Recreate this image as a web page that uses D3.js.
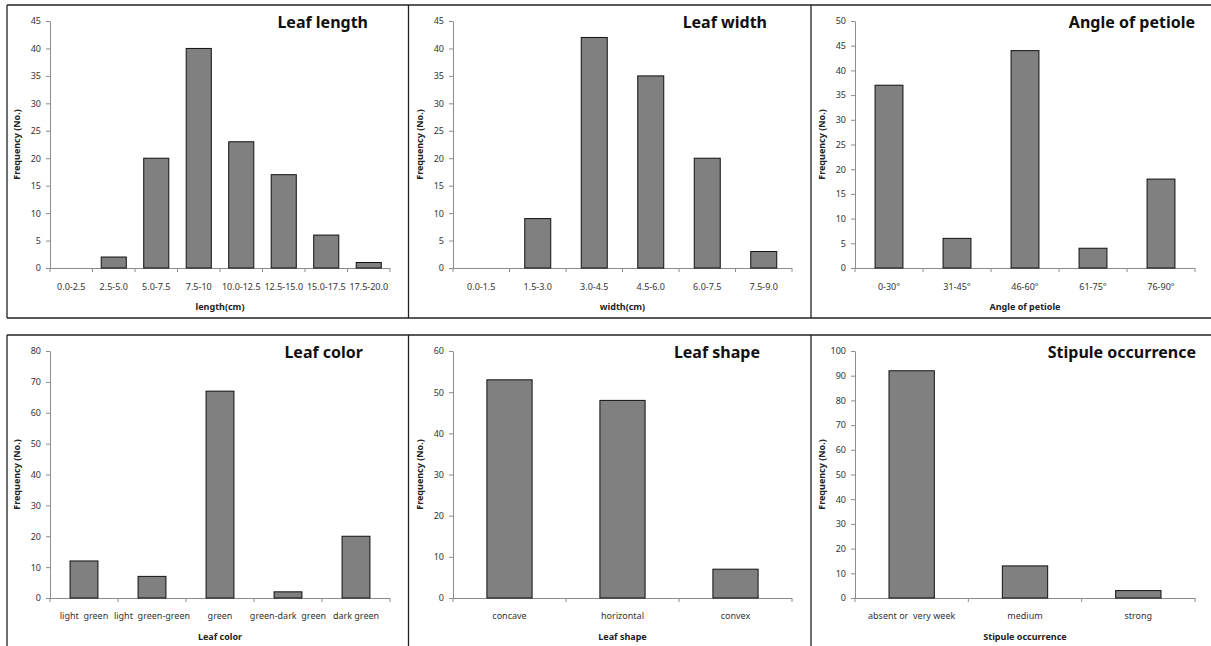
<!DOCTYPE html>
<html><head><meta charset="utf-8">
<script src="https://cdn.jsdelivr.net/npm/d3@7"></script>
<style>body{margin:0;background:#fff}svg{display:block}</style>
</head><body>
<svg id="c" width="1211" height="646"></svg>
<script>
// ---- data ----
const lengthCats = ["0.0-2.5","2.5-5.0","5.0-7.5","7.5-10","10.0-12.5","12.5-15.0","15.0-17.5","17.5-20.0"];
const lengthVals = [0, 2, 20, 40, 23, 17, 6, 1];
const lengthTicks = [0,5,10,15,20,25,30,35,40,45];

const widthCats = ["0.0-1.5","1.5-3.0","3.0-4.5","4.5-6.0","6.0-7.5","7.5-9.0"];
const widthVals = [0, 9, 42, 35, 20, 3];
const widthTicks = [0,5,10,15,20,25,30,35,40,45];

const angleCats = ["0-30°","31-45°","46-60°","61-75°","76-90°"];
const angleVals = [37, 6, 44, 4, 18];
const angleTicks = [0,5,10,15,20,25,30,35,40,45,50];

const colorCats = ["light  green","light  green-green","green","green-dark  green","dark green"];
const colorVals = [12, 7, 67, 2, 20];
const colorTicks = [0,10,20,30,40,50,60,70,80];

const shapeCats = ["concave","horizontal","convex"];
const shapeVals = [53, 48, 7];
const shapeTicks = [0,10,20,30,40,50,60];

const stipCats = ["absent or  very week","medium","strong"];
const stipVals = [92, 13, 3];
const stipTicks = [0,10,20,30,40,50,60,70,80,90,100];

// ---- layout ----
const panels = [
  {title:"Leaf length", xTitle:"length(cm)", cats:lengthCats, vals:lengthVals, ticks:lengthTicks, x0:50, x1:390, yT:21, yB:268, pad:0.41, titleX:368, titleY:28, tickY:290, axY:310},
  {title:"Leaf width", xTitle:"width(cm)", cats:widthCats, vals:widthVals, ticks:widthTicks, x0:453, x1:792, yT:21, yB:268, pad:0.54, titleX:767, titleY:28, tickY:290, axY:310},
  {title:"Angle of petiole", xTitle:"Angle of petiole", cats:angleCats, vals:angleVals, ticks:angleTicks, x0:855, x1:1195, yT:21, yB:268, pad:0.59, titleX:1195, titleY:28, tickY:290, axY:310},
  {title:"Leaf color", xTitle:"Leaf color", cats:colorCats, vals:colorVals, ticks:colorTicks, x0:50, x1:390, yT:351, yB:598, pad:0.59, titleX:363, titleY:358, tickY:619, axY:640},
  {title:"Leaf shape", xTitle:"Leaf shape", cats:shapeCats, vals:shapeVals, ticks:shapeTicks, x0:453, x1:792, yT:351, yB:598, pad:0.6, titleX:760, titleY:358, tickY:619, axY:640},
  {title:"Stipule occurrence", xTitle:"Stipule occurrence", cats:stipCats, vals:stipVals, ticks:stipTicks, x0:855, x1:1195, yT:351, yB:598, pad:0.6, titleX:1196, titleY:358, tickY:619, axY:640}
];

const svg = d3.select("#c");
const font = "'Noto Sans', 'DejaVu Sans', sans-serif";

// frames
const frame = svg.append("g").attr("stroke","#222").attr("stroke-width",1.3).attr("fill","none");
[[7,5,1211,5],[7,318,1211,318],[7,5,7,318],[408.5,5,408.5,318],[811,5,811,318],
 [7,335,1211,335],[7,335,7,646],[408.5,335,408.5,646],[811,335,811,646]].forEach(l=>{
  frame.append("line").attr("x1",l[0]).attr("y1",l[1]).attr("x2",l[2]).attr("y2",l[3]);
});

panels.forEach(p=>{
  const g = svg.append("g");
  const x = d3.scaleBand().domain(p.cats).range([p.x0,p.x1]).paddingInner(p.pad).paddingOuter(p.pad/2);
  const y = d3.scaleLinear().domain([0, d3.max(p.ticks)]).range([p.yB,p.yT]);

  // y axis
  const ya = g.append("g").attr("transform",`translate(${p.x0},0)`)
    .call(d3.axisLeft(y).tickValues(p.ticks).tickSize(4).tickPadding(5).tickSizeOuter(0));
  ya.select(".domain").attr("stroke","#8c8c8c");
  ya.selectAll(".tick line").attr("stroke","#8c8c8c");
  ya.selectAll(".tick text").attr("font-family",font).attr("font-size",9).attr("fill","#333");

  // x axis line + category boundary ticks
  g.append("line").attr("x1",p.x0).attr("x2",p.x1).attr("y1",p.yB+0.5).attr("y2",p.yB+0.5).attr("stroke","#8c8c8c");
  const step = (p.x1-p.x0)/p.cats.length;
  d3.range(p.cats.length+1).forEach(i=>{
    const xx = p.x0 + i*step;
    g.append("line").attr("x1",xx).attr("x2",xx).attr("y1",p.yB).attr("y2",p.yB+4).attr("stroke","#8c8c8c");
  });
  g.selectAll("text.xl").data(p.cats).join("text").attr("class","xl")
    .attr("x",d=>x(d)+x.bandwidth()/2).attr("y",p.tickY)
    .attr("text-anchor","middle").attr("font-family",font).attr("font-size",9).attr("fill","#333")
    .attr("xml:space","preserve").style("white-space","pre").text(d=>d);

  // bars
  g.selectAll("rect.bar").data(p.vals).join("rect").attr("class","bar")
    .attr("x",(d,i)=>x(p.cats[i])).attr("width",x.bandwidth())
    .attr("y",d=>y(d)).attr("height",d=>y(0)-y(d))
    .attr("fill","#808080").attr("stroke","#111").attr("stroke-width",1)
    .attr("visibility",d=>d>0?"visible":"hidden");

  // titles
  g.append("text").attr("x",p.titleX).attr("y",p.titleY).attr("text-anchor","end")
    .attr("font-family",font).attr("font-weight","bold").attr("font-size",16).attr("fill","#111").text(p.title);
  g.append("text").attr("x",(p.x0+p.x1)/2).attr("y",p.axY).attr("text-anchor","middle")
    .attr("font-family",font).attr("font-weight","bold").attr("font-size",9).attr("fill","#222").text(p.xTitle);
  g.append("text").attr("transform",`translate(${p.x0-30},${(p.yT+p.yB)/2}) rotate(-90)`)
    .attr("text-anchor","middle").attr("font-family",font).attr("font-weight","bold").attr("font-size",9).attr("fill","#222")
    .text("Frequency (No.)");
});
</script>
</body></html>
